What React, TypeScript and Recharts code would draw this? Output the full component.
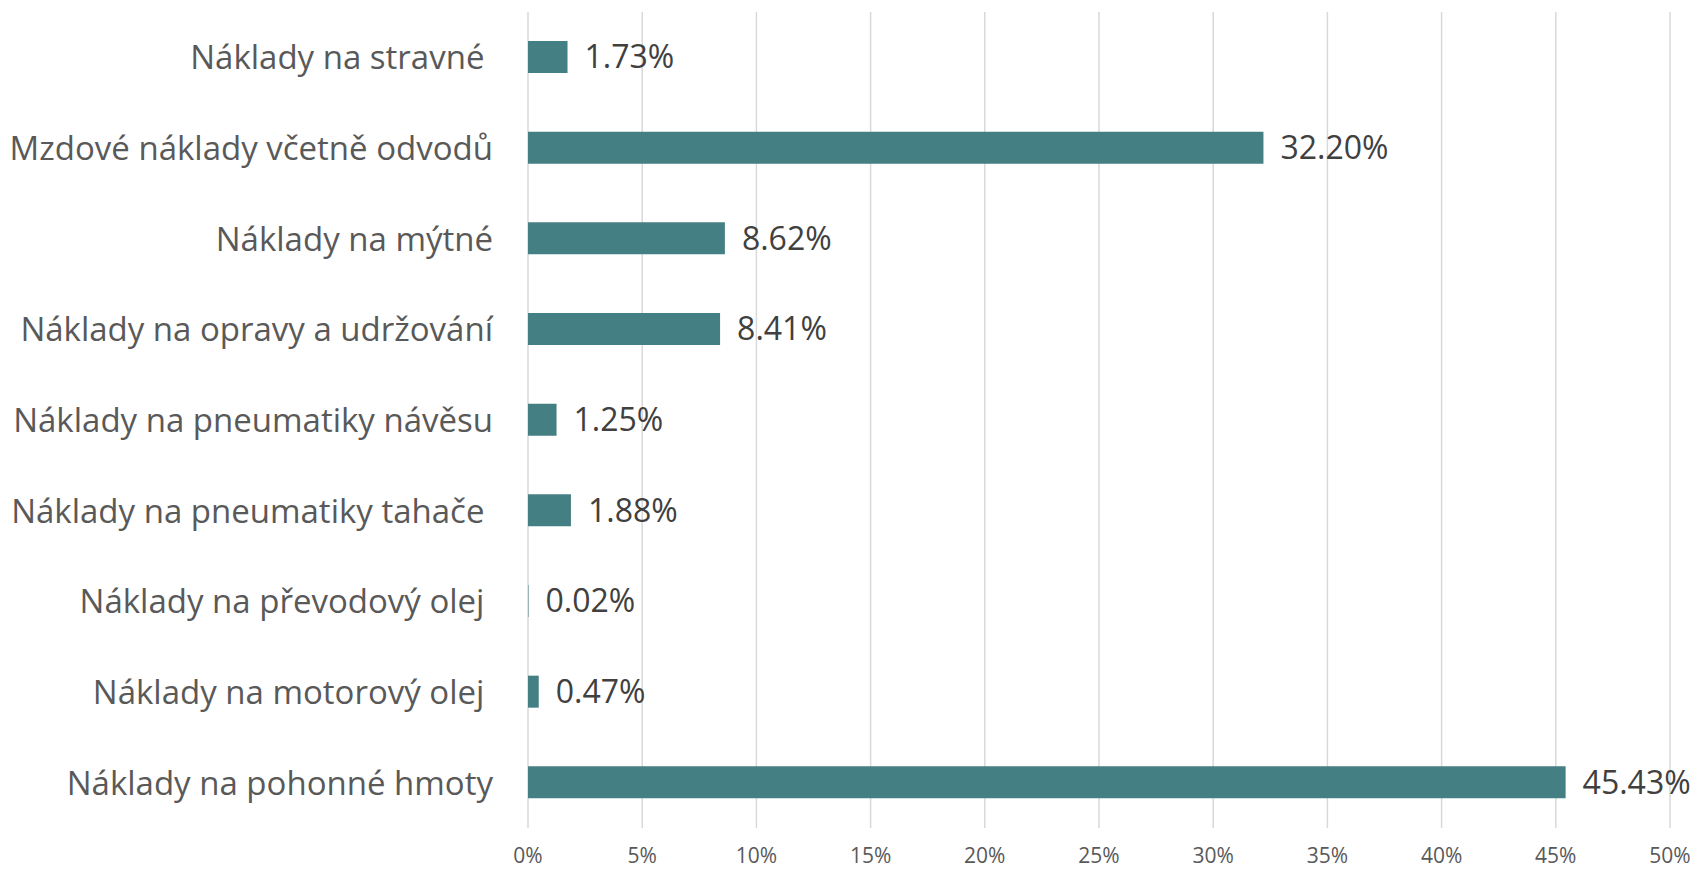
import React from 'react';
import { BarChart, Bar, XAxis, YAxis, CartesianGrid, LabelList } from 'recharts';

// trailing spaces kept on purpose, the source labels have them
const categories = [
  'Náklady na stravné ',
  'Mzdové náklady včetně odvodů',
  'Náklady na mýtné',
  'Náklady na opravy a udržování',
  'Náklady na pneumatiky návěsu',
  'Náklady na pneumatiky tahače ',
  'Náklady na převodový olej ',
  'Náklady na motorový olej ',
  'Náklady na pohonné hmoty',
];

const shares = [1.73, 32.2, 8.62, 8.41, 1.25, 1.88, 0.02, 0.47, 45.43];

const xTicks = [0, 5, 10, 15, 20, 25, 30, 35, 40, 45, 50];

const data = categories.map((name, i) => ({ name, value: shares[i] }));

const FONT = '"Open Sans", sans-serif';

const CategoryTick = (props: any) => {
  const { x, y, payload } = props;
  return (
    <text
      x={x}
      y={y}
      dy="0.36em"
      textAnchor="end"
      fill="#595959"
      fontSize={33}
      fontFamily={FONT}
      style={{ whiteSpace: 'pre' }}
    >
      {payload.value}
    </text>
  );
};

const App: React.FC = () => {
  return (
    <div style={{ position: 'absolute', left: 0, top: 0, width: 1698, height: 870, background: '#fff' }}>
      <BarChart
        width={1698}
        height={870}
        data={data}
        layout="vertical"
        margin={{ top: 12, right: 28, bottom: 0, left: 0 }}
      >
        <CartesianGrid horizontal={false} stroke="#d9d9d9" strokeWidth={1.5} />
        <XAxis
          type="number"
          domain={[0, 50]}
          ticks={xTicks}
          tickFormatter={(v) => `${v}%`}
          axisLine={false}
          tickLine={false}
          tickMargin={14}
          height={42}
          interval={0}
          tick={{ fill: '#595959', fontSize: 21, fontFamily: FONT }}
        />
        <YAxis
          type="category"
          dataKey="name"
          width={528}
          axisLine={false}
          tickLine={false}
          tickMargin={29}
          interval={0}
          tick={<CategoryTick />}
        />
        <Bar dataKey="value" fill="#447F84" barSize={32} isAnimationActive={false}>
          <LabelList
            dataKey="value"
            position="right"
            offset={17}
            formatter={(v: any) => `${Number(v).toFixed(2)}%`}
            fill="#404040"
            fontSize={32}
            fontFamily={FONT}
          />
        </Bar>
      </BarChart>
    </div>
  );
};

export default App;
